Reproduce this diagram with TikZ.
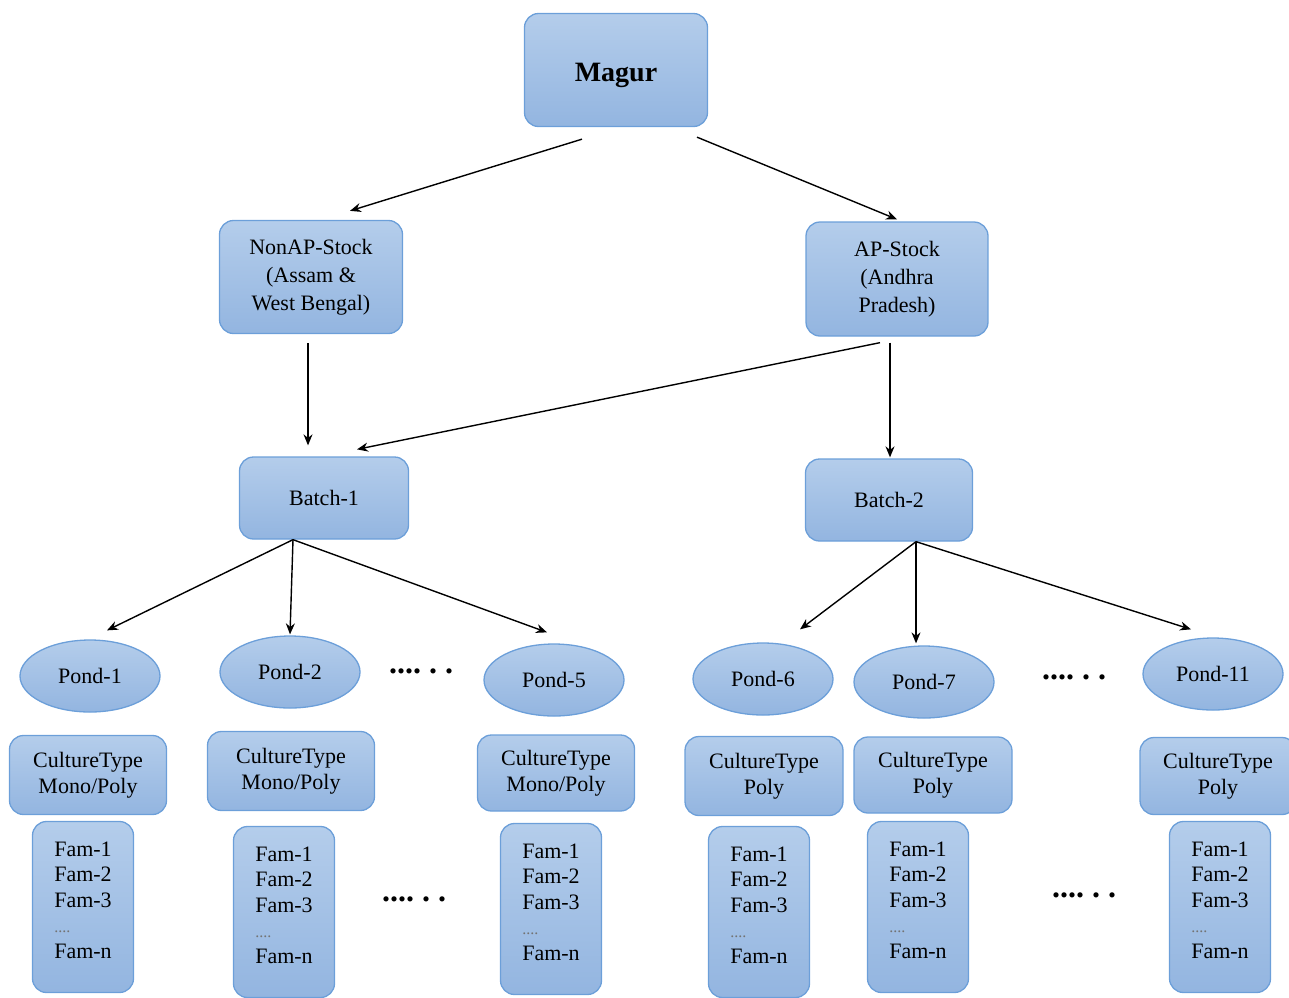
\documentclass[tikz,border=0pt]{standalone}
\usepackage{fontspec}
\setmainfont{Liberation Serif}
\usepackage{xcolor}
\usepackage{tikz}
\usetikzlibrary{shapes.geometric,positioning,arrows.meta}
\definecolor{boxtop}{HTML}{B4CDEB}
\definecolor{boxbot}{HTML}{93B5E0}
\definecolor{boxline}{HTML}{6C9FD9}
\tikzset{box/.style={draw=boxline,line width=1.3pt,rounded corners=14pt,top color=boxtop,bottom color=boxbot,align=center,inner sep=0pt,font=\fontsize{22}{28}\selectfont},
pond/.style={ellipse,draw=boxline,line width=1.3pt,top color=boxtop,bottom color=boxbot,minimum width=140pt,minimum height=72pt,inner sep=0pt,font=\fontsize{22}{26}\selectfont},
fam/.style={box,minimum width=101pt,minimum height=171pt,align=left,font=\fontsize{22}{25.5}\selectfont},
ctype/.style={box,minimum height=79pt,font=\fontsize{22}{26}\selectfont},
more/.style={font=\fontsize{32}{32}\bfseries\selectfont,inner sep=0pt},
arr/.style={->,line width=1.4pt}}
\newcommand{\famlist}{Fam-1\\Fam-2\\Fam-3\\{\fontsize{16}{25.5}\selectfont\color{black!55}....}\\Fam-n\\[-11pt]{}}

\begin{document}
\begin{tikzpicture}[>={Stealth[length=11pt,width=9pt]},x=1pt,y=-1pt]
        \useasboundingbox (0,0) rectangle (1289,997);
        \node[box,minimum width=183pt,minimum height=113pt,font=\fontsize{28}{30}\bfseries\selectfont] (magur)at (616,70) {\raisebox{-5pt}[19pt][6pt]{Magur}};
        \node[box,minimum width=183pt,minimum height=113pt] (nonap)at (311,277) {NonAP-Stock\\(Assam \&\\West Bengal)};
        \node[box,minimum width=182pt,minimum height=114pt] (ap)at (897,279) {AP-Stock\\(Andhra\\Pradesh)};
        \node[box,minimum width=169pt,minimum height=82pt] (batcha)at (324,498) {Batch-1};
        \node[box,minimum width=167pt,minimum height=82pt] (batchb)at (889,500) {Batch-2};

        \node[pond] (pa)at (90,676) {Pond-1};
        \node[pond] (pb)at (290,672) {Pond-2};
        \node[pond] (pe)at (554,680) {Pond-5};
        \node[pond] (pf)at (763,679) {Pond-6};
        \node[pond] (pg)at (924,682) {Pond-7};
        \node[pond] (pk)at (1213,674) {Pond-11};
        \node[more] (dota)at (421,671) {....\ .\ .};
        \node[more] (dotb)at (1074,677) {....\ .\ .};

        \node[ctype,minimum width=157pt] (ca)at (88,775) {CultureType\\Mono/Poly};
        \node[ctype,minimum width=167pt] (cb)at (291,771) {CultureType\\Mono/Poly};
        \node[ctype,minimum width=157pt,minimum height=76pt] (ce)at (556,773) {CultureType\\Mono/Poly};
        \node[ctype,minimum width=158pt] (cf)at (764,776) {CultureType\\Poly};
        \node[ctype,minimum width=158pt,minimum height=76pt] (cg)at (933,775) {CultureType\\Poly};
        \node[ctype,minimum width=156pt,minimum height=77pt] (ck)at (1218,776) {CultureType\\Poly};

        \node[fam] (fa)at (83,907) {\famlist};
        \node[fam] (fb)at (284,912) {\famlist};
        \node[fam] (fe)at (551,909) {\famlist};
        \node[fam] (ff)at (759,912) {\famlist};
        \node[fam] (fg)at (918,907) {\famlist};
        \node[fam] (fk)at (1220,907) {\famlist};
        \node[more] (dotc)at (414,899) {....\ .\ .};
        \node[more] (dotd)at (1084,895) {....\ .\ .};

        \draw [arr] ([shift={(-34,12)}]magur.south) to [] ([shift={(39,-9)}]nonap.north);
        \draw [arr] ([shift={(81,10)}]magur.south) to [] ([shift={(0,-2)}]ap.north);
        \draw [arr] ([shift={(-3,9)}]nonap.south) to [] ([shift={(-16,-11)}]batcha.north);
        \draw [arr] ([shift={(-17,6)}]ap.south) to [] ([shift={(33,-7)}]batcha.north);
        \draw [arr] ([shift={(-7,6)}]ap.south) to [] ([shift={(1,-1)}]batchb.north);
        \draw [arr] ([xshift=-31]batcha.south) to [] ([shift={(17,-9)}]pa.north);
        \draw [arr] ([xshift=-31]batcha.south) to [] ([shift={(0,-1)}]pb.north);
        \draw [arr] ([xshift=-31]batcha.south) to [] ([shift={(-7,-11)}]pe.north);
        \draw [arr] ([xshift=27]batchb.south) to [] ([shift={(37,-13)}]pf.north);
        \draw [arr] ([xshift=27]batchb.south) to [] ([shift={(-8,-2)}]pg.north);
        \draw [arr] ([xshift=27]batchb.south) to [] ([shift={(-22,-8)}]pk.north);
    \end{tikzpicture}
\end{document}
